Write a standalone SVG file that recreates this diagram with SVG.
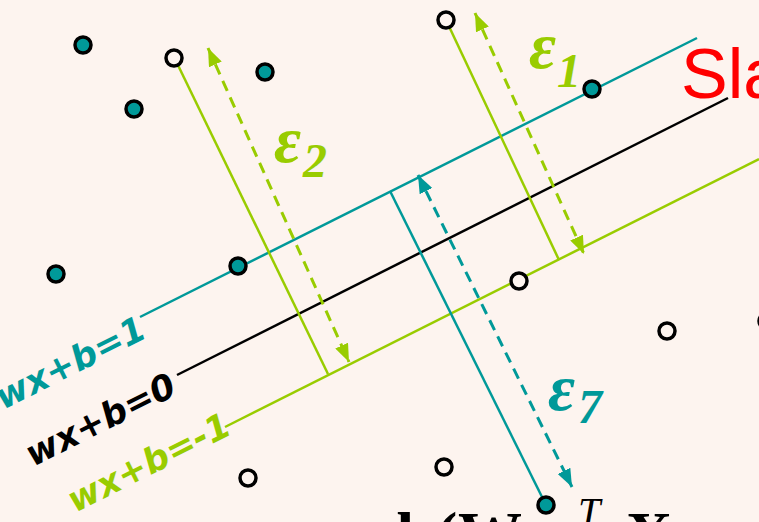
<svg xmlns="http://www.w3.org/2000/svg" width="759" height="522" viewBox="0 0 759 522">
<style>
.bg{fill:#FDF4EF}
.pos{fill:#009999;stroke:#000;stroke-width:3.5}
.neg{fill:#FDF4EF;stroke:#000;stroke-width:3.5}
.ln{fill:none;stroke-width:2.5}
.dash{fill:none;stroke-width:3;stroke-dasharray:11 7}
.teal{stroke:#009999}
.green{stroke:#99CC00}
.black{stroke:#000}
.lab{font-family:"DejaVu Sans",Verdana,sans-serif;font-weight:bold;font-style:italic;font-size:35px}
.eps{font-family:"Liberation Serif","Times New Roman",serif;font-weight:bold;font-style:italic}
</style>
<defs>
<marker id="ag" viewBox="0 0 18 14" refX="18" refY="7" markerWidth="18" markerHeight="14" markerUnits="userSpaceOnUse" orient="auto-start-reverse"><path d="M0,0 L18,7 L0,14 z" fill="#99CC00"/></marker>
<marker id="at" viewBox="0 0 18 14" refX="18" refY="7" markerWidth="18" markerHeight="14" markerUnits="userSpaceOnUse" orient="auto-start-reverse"><path d="M0,0 L18,7 L0,14 z" fill="#009999"/></marker>
</defs>
<rect class="bg" x="0" y="0" width="759" height="522"/>
<g id="connectors">
<line id="h-plus" class="ln teal" x1="140" y1="317" x2="697" y2="38"/>
<line id="h-zero" class="ln black" x1="177" y1="375" x2="728" y2="98"/>
<line id="h-minus" class="ln green" x1="225" y1="427" x2="759" y2="159"/>
<line id="s2" class="ln green" x1="174" y1="57" x2="328" y2="374"/>
<line id="d2" class="dash green" x1="208" y1="48" x2="349" y2="362" marker-start="url(#ag)" marker-end="url(#ag)"/>
<line id="s1" class="ln green" x1="446" y1="20" x2="559" y2="260"/>
<line id="d1" class="dash green" x1="475" y1="13" x2="584" y2="254" marker-start="url(#ag)" marker-end="url(#ag)"/>
<line id="s7" class="ln teal" x1="390" y1="191" x2="546" y2="505"/>
<line id="d7" class="dash teal" x1="418" y1="175" x2="572" y2="487" marker-start="url(#at)" marker-end="url(#at)"/>
</g>
<g id="p1"><circle class="pos" cx="83" cy="45" r="8"/></g>
<g id="p2"><circle class="pos" cx="134" cy="109" r="8"/></g>
<g id="p3"><circle class="pos" cx="265" cy="72" r="8"/></g>
<g id="p4"><circle class="pos" cx="238" cy="266" r="8"/></g>
<g id="p5"><circle class="pos" cx="56" cy="274" r="8"/></g>
<g id="p6"><circle class="pos" cx="592" cy="89" r="8"/></g>
<g id="p7"><circle class="pos" cx="546" cy="505" r="8"/></g>
<g id="p8"><circle class="pos" cx="767" cy="321" r="8"/></g>
<g id="n1"><circle class="neg" cx="174" cy="58" r="8"/></g>
<g id="n2"><circle class="neg" cx="446" cy="20" r="8"/></g>
<g id="n3"><circle class="neg" cx="519" cy="281" r="8"/></g>
<g id="n4"><circle class="neg" cx="667" cy="331" r="8"/></g>
<g id="n5"><circle class="neg" cx="248" cy="478" r="8"/></g>
<g id="n6"><circle class="neg" cx="444" cy="467" r="8"/></g>
<g id="labels">
<text class="lab" fill="#009999" x="3" y="410" transform="rotate(-26.7 3 410)">wx+b=1</text>
<text class="lab" fill="#000" x="33" y="467" transform="rotate(-26.7 33 467)">wx+b=0</text>
<text class="lab" fill="#99CC00" x="75" y="513" transform="rotate(-26.7 75 513)">wx+b=-1</text>
<text class="eps" fill="#99CC00" x="529" y="68" font-size="66">ε<tspan x="557" y="87" font-size="48">1</tspan></text>
<text class="eps" fill="#99CC00" x="274" y="162" font-size="66">ε<tspan x="303" y="177" font-size="48">2</tspan></text>
<text class="eps" fill="#009999" x="548" y="410" font-size="66">ε<tspan x="578" y="423" font-size="48">7</tspan></text>
<text x="681" y="98" font-family="'Liberation Sans',Arial,sans-serif" font-size="70" fill="#FF0000">Sla</text>
<text font-family="'Liberation Serif','Times New Roman',serif" font-weight="bold" font-size="64" fill="#000" y="556"><tspan x="397">b</tspan><tspan x="436">(</tspan><tspan x="458">W</tspan><tspan x="578" y="525" font-size="40" font-weight="normal" font-style="italic">T</tspan><tspan x="626" y="556">X</tspan></text>
</g>
</svg>
